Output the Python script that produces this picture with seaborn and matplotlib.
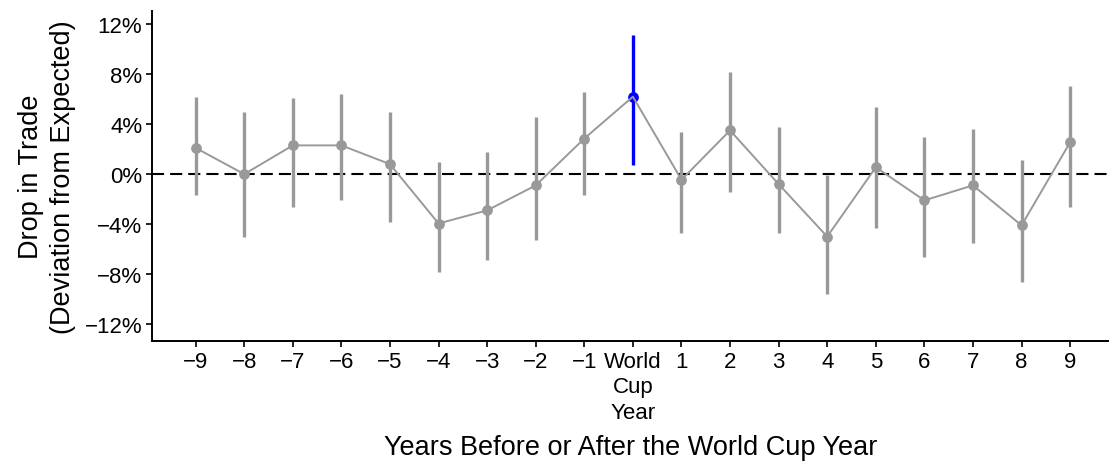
import matplotlib
matplotlib.use("Agg")
import matplotlib.pyplot as plt
import seaborn as sns
import pandas as pd
import numpy as np

years = [-9, -8, -7, -6, -5, -4, -3, -2, -1, 0, 1, 2, 3, 4, 5, 6, 7, 8, 9]
tick_labels = ["\u22129", "\u22128", "\u22127", "\u22126", "\u22125", "\u22124", "\u22123", "\u22122", "\u22121",
               "World\nCup\nYear", "1", "2", "3", "4", "5", "6", "7", "8", "9"]
estimate = [2.1, 0.0, 2.3, 2.3, 0.8, -3.95, -2.9, -0.9, 2.85, 6.2,
            -0.45, 3.5, -0.8, -5.0, 0.55, -2.1, -0.9, -4.1, 2.55]
ci_low = [-1.7, -5.05, -2.65, -2.1, -3.85, -7.8, -6.85, -5.3, -1.7, 0.75,
          -4.75, -1.4, -4.75, -9.6, -4.3, -6.65, -5.55, -8.6, -2.6]
ci_high = [6.2, 5.0, 6.1, 6.45, 4.95, 1.0, 1.8, 4.55, 6.6, 11.1,
           3.4, 8.2, 3.75, -0.05, 5.35, 3.0, 3.65, 1.1, 7.05]
y_ticks = [-12, -8, -4, 0, 4, 8, 12]

df = pd.DataFrame({"year": years, "est": estimate, "lo": ci_low, "hi": ci_high})
df["wc"] = df["year"] == 0

sns.set_style("ticks")
plt.rcParams["font.family"] = ["Liberation Sans", "DejaVu Sans"]

fig = plt.figure(figsize=(11.09, 4.64), dpi=100)
ax = fig.add_axes([0.137, 0.263, 0.863, 0.711])

gray = "#999999"
blue = "#0000FF"

ax.axhline(0, color="black", lw=1.5, ls=(0, (5.8, 2.9)), zorder=1)

other = df[~df["wc"]]
wc = df[df["wc"]]
ax.vlines(other["year"], other["lo"], other["hi"], color=gray, lw=2.4, zorder=3)
ax.vlines(wc["year"], wc["lo"], wc["hi"], color=blue, lw=2.4, zorder=4)
sns.scatterplot(data=other, x="year", y="est", color=gray, s=60, edgecolor=gray,
                linewidth=0, ax=ax, zorder=5)
sns.scatterplot(data=wc, x="year", y="est", color=blue, s=60, edgecolor=blue,
                linewidth=0, ax=ax, zorder=5)
sns.lineplot(data=df, x="year", y="est", color=gray, lw=1.4, ax=ax, zorder=6)

ax.set_xlim(-9.9, 9.8)
ax.set_ylim(-13.35, 13.05)
ax.set_xticks(years)
ax.set_xticklabels(tick_labels, fontsize=16, linespacing=1.3)
ax.set_yticks(y_ticks)
ax.set_yticklabels([("\u2212" if v < 0 else "") + f"{abs(v)}%" for v in y_ticks], fontsize=16)
ax.tick_params(axis="both", direction="out", length=4, width=1.2, color="black",
               labelcolor="black", pad=3)
for s in ["top", "right"]:
    ax.spines[s].set_visible(False)
for s in ["left", "bottom"]:
    ax.spines[s].set_linewidth(1.4)
    ax.spines[s].set_color("black")

ax.set_xlabel("Years Before or After the World Cup Year", fontsize=19.5, labelpad=8, color="black")
ax.set_ylabel("Drop in Trade\n(Deviation from Expected)", fontsize=19.5, labelpad=6,
              linespacing=1.3, color="black")

fig.savefig("out.png", dpi=100)
